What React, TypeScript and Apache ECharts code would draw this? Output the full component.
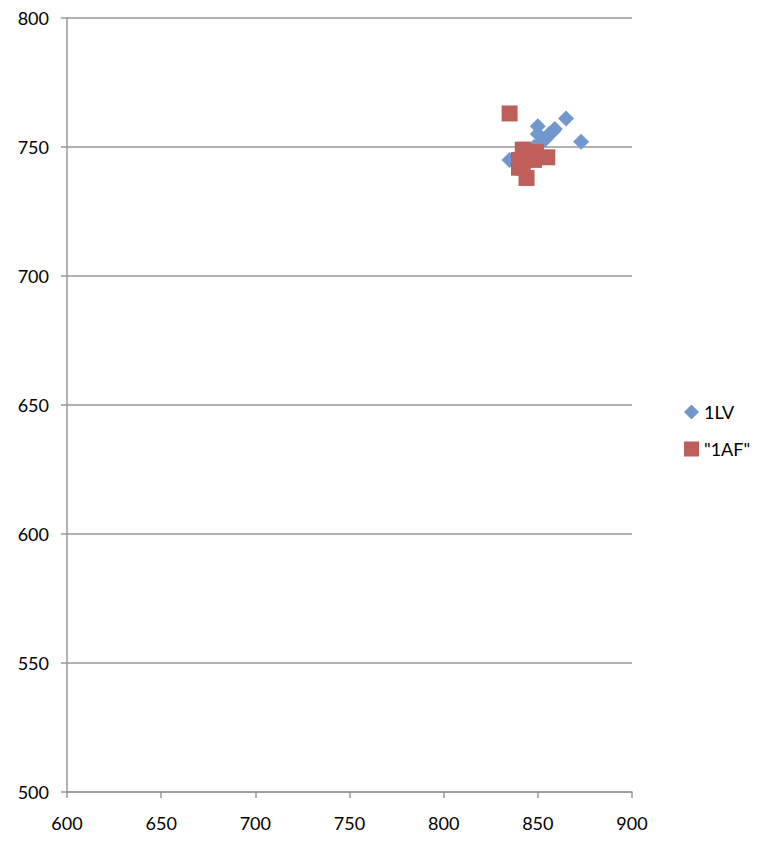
import React, { useEffect, useRef } from "react";
import * as echarts from "echarts";

const seriesNames = ["1LV", "\"1AF\""];
const lvPoints: [number, number][] = [
  [835, 745], [850, 758], [850, 755], [852, 752], [854, 753], [856, 755],
  [858, 756], [859, 757], [865, 761], [873, 752], [848, 750], [845, 748],
];
const afPoints: [number, number][] = [
  [835, 763], [844, 738], [842, 749], [855, 746], [849, 748], [840, 745],
  [840, 742], [848, 745], [842, 742], [845, 746],
];
const xTicks = { min: 600, max: 900, interval: 50 };
const yTicks = { min: 500, max: 800, interval: 50 };

const FONT = "Lato, 'Open Sans', sans-serif";

export default function App() {
  const ref = useRef<HTMLDivElement>(null);
  useEffect(() => {
    if (!ref.current) return;
    const chart = echarts.init(ref.current, null, { renderer: "svg" });
    chart.setOption({
      animation: false,
      backgroundColor: "#ffffff",
      grid: { left: 67, top: 18, right: 129, bottom: 61, containLabel: false },
      legend: {
        orient: "vertical",
        left: 679,
        top: 398,
        itemGap: 19,
        itemWidth: 15,
        itemHeight: 15,
        textStyle: { fontFamily: FONT, fontSize: 18, color: "#000" },
        data: [
          { name: seriesNames[0], icon: "diamond" },
          { name: seriesNames[1], icon: "rect" },
        ],
      },
      xAxis: {
        type: "value",
        min: xTicks.min,
        max: xTicks.max,
        interval: xTicks.interval,
        axisLine: { show: true, lineStyle: { color: "#999", width: 1.5 } },
        axisTick: { show: true, length: 6, lineStyle: { color: "#999", width: 1.5 } },
        splitLine: { show: false },
        axisLabel: { fontFamily: FONT, fontSize: 18, color: "#000", margin: 22 },
      },
      yAxis: {
        type: "value",
        min: yTicks.min,
        max: yTicks.max,
        interval: yTicks.interval,
        axisLine: { show: true, lineStyle: { color: "#999", width: 1.5 } },
        axisTick: { show: true, length: 6, inside: false, lineStyle: { color: "#999", width: 1.5 } },
        splitLine: { show: true, lineStyle: { color: "#999", width: 1.5 } },
        axisLabel: { fontFamily: FONT, fontSize: 18, color: "#000", margin: 18 },
      },
      series: [
        {
          name: seriesNames[0],
          type: "scatter",
          symbol: "diamond",
          symbolSize: 16,
          itemStyle: { color: "#7197CC", opacity: 1 },
          data: lvPoints,
        },
        {
          name: seriesNames[1],
          type: "scatter",
          symbol: "rect",
          symbolSize: 16,
          itemStyle: { color: "#BF5E5A", opacity: 1 },
          data: afPoints,
        },
      ],
    });
    return () => chart.dispose();
  }, []);
  return (
    <div
      ref={ref}
      style={{ position: "fixed", left: 0, top: 0, width: 761, height: 853 }}
    />
  );
}
